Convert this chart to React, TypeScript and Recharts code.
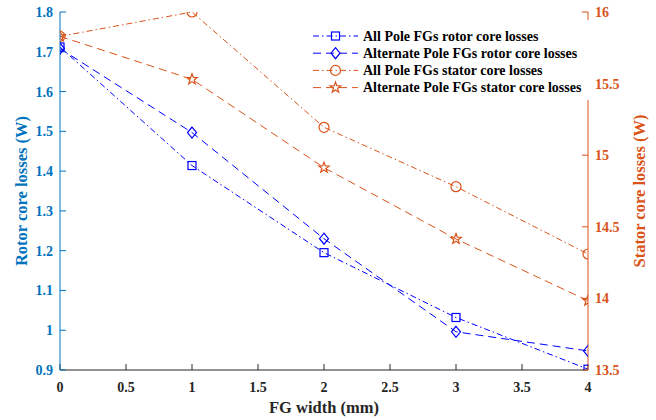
import React from 'react';
import { LineChart, Line, XAxis, YAxis, Legend, Label } from 'recharts';

// ---- data ----
const fgWidth = [0, 1, 2, 3, 4];
const allPoleRotor = [1.712, 1.414, 1.195, 1.032, 0.902];
const altPoleRotor = [1.708, 1.497, 1.23, 0.996, 0.948];
const allPoleStator = [15.83, 16.0, 15.195, 14.78, 14.31];
const altPoleStator = [15.83, 15.53, 14.913, 14.415, 13.984];

const xTicks = [0, 0.5, 1, 1.5, 2, 2.5, 3, 3.5, 4];
const leftTicks = [0.9, 1, 1.1, 1.2, 1.3, 1.4, 1.5, 1.6, 1.7, 1.8];
const rightTicks = [13.5, 14, 14.5, 15, 15.5, 16];

const seriesNames = [
  'All Pole FGs rotor core losses',
  'Alternate Pole FGs rotor core losses',
  'All Pole FGs stator core losses',
  'Alternate Pole FGs stator core losses',
];

const data = fgWidth.map((x, i) => ({
  x,
  apr: allPoleRotor[i],
  altr: altPoleRotor[i],
  aps: allPoleStator[i],
  alts: altPoleStator[i],
}));

const BLUE = '#0000FF';
const ORANGE = '#D95319';
const AXBLUE = '#0072BD';
const DARK = '#262626';
const FONT = "'Times New Roman', 'Liberation Serif', serif";
const DASHDOT = '6 3 1.5 3';
const DASHED = '8 5';

type MarkerKind = 'square' | 'diamond' | 'circle' | 'star';

const series: { key: string; name: string; color: string; dash: string; marker: MarkerKind; axis: string }[] = [
  { key: 'apr', name: seriesNames[0], color: BLUE, dash: DASHDOT, marker: 'square', axis: 'left' },
  { key: 'altr', name: seriesNames[1], color: BLUE, dash: DASHED, marker: 'diamond', axis: 'left' },
  { key: 'aps', name: seriesNames[2], color: ORANGE, dash: DASHDOT, marker: 'circle', axis: 'right' },
  { key: 'alts', name: seriesNames[3], color: ORANGE, dash: DASHED, marker: 'star', axis: 'right' },
];

function starPath(cx: number, cy: number, ro: number, ri: number) {
  const pts: string[] = [];
  for (let k = 0; k < 10; k++) {
    const r = k % 2 === 0 ? ro : ri;
    const a = -Math.PI / 2 + (k * Math.PI) / 5;
    pts.push(`${(cx + r * Math.cos(a)).toFixed(2)},${(cy + r * Math.sin(a)).toFixed(2)}`);
  }
  return `M${pts.join('L')}Z`;
}

function Marker({ kind, cx, cy, color }: { kind: MarkerKind; cx: number; cy: number; color: string }) {
  const common = { fill: 'none', stroke: color, strokeWidth: 1.2 };
  if (kind === 'square') return <rect x={cx - 4} y={cy - 4} width={8} height={8} {...common} />;
  if (kind === 'diamond')
    return <path d={`M${cx},${cy - 5.5}L${cx + 4.5},${cy}L${cx},${cy + 5.5}L${cx - 4.5},${cy}Z`} {...common} />;
  if (kind === 'circle') return <circle cx={cx} cy={cy} r={5} {...common} />;
  return <path d={starPath(cx, cy, 5.5, 2.3)} {...common} />;
}

const textStyle = (size: number, color: string) => ({
  fontFamily: FONT,
  fontWeight: 700,
  fontSize: size,
  fill: color,
});

const LegendBox = () => (
  <svg width={290} height={80} style={{ display: 'block' }}>
    <rect x={0} y={0} width={290} height={80} fill="#fff" />
    {series.map((s, i) => {
      const y = 16 + i * 17.2;
      return (
        <g key={s.key}>
          <line x1={13} x2={58} y1={y} y2={y} stroke={s.color} strokeWidth={1} strokeDasharray={s.dash} />
          <Marker kind={s.marker} cx={35.5} cy={y} color={s.color} />
          <text x={63} y={y + 4.8} style={textStyle(14, '#000')}>
            {s.name}
          </text>
        </g>
      );
    })}
  </svg>
);

export default function App() {
  return (
    <div style={{ position: 'absolute', left: 0, top: 0, background: '#fff' }}>
      <LineChart width={656} height={420} data={data} margin={{ top: 12, right: 0, bottom: 0, left: 0 }}>
        <XAxis
          xAxisId="top"
          orientation="top"
          dataKey="x"
          type="number"
          domain={[0, 4]}
          allowDataOverflow
          height={0}
          tick={false}
          tickLine={false}
          axisLine={{ stroke: DARK, strokeWidth: 1 }}
        />
        <XAxis
          dataKey="x"
          type="number"
          domain={[0, 4]}
          ticks={xTicks}
          allowDataOverflow
          height={50}
          tickSize={-6}
          tickMargin={18}
          axisLine={{ stroke: DARK, strokeWidth: 1 }}
          tickLine={{ stroke: DARK, strokeWidth: 1 }}
          tick={{ style: textStyle(14, DARK) }}
          tickFormatter={(v: number) => String(v)}
        >
          <Label
            content={(p: any) => {
              const vb = p.viewBox;
              return (
                <text x={vb.x + vb.width / 2} y={vb.y + 43} textAnchor="middle" style={textStyle(16.5, DARK)}>
                  FG width (mm)
                </text>
              );
            }}
          />
        </XAxis>
        <YAxis
          yAxisId="left"
          orientation="left"
          type="number"
          domain={[0.9, 1.8]}
          ticks={leftTicks}
          allowDataOverflow
          width={60}
          tickSize={-6}
          tickMargin={13}
          axisLine={{ stroke: AXBLUE, strokeWidth: 1 }}
          tickLine={{ stroke: AXBLUE, strokeWidth: 1 }}
          tick={{ style: textStyle(14, AXBLUE) }}
          tickFormatter={(v: number) => String(v)}
        >
          <Label
            content={(p: any) => {
              const vb = p.viewBox;
              const cx = vb.x + 21;
              const cy = vb.y + vb.height / 2;
              return (
                <text
                  x={cx}
                  y={cy}
                  transform={`rotate(-90, ${cx}, ${cy})`}
                  textAnchor="middle"
                  dominantBaseline="central"
                  style={textStyle(16.5, AXBLUE)}
                >
                  Rotor core losses (W)
                </text>
              );
            }}
          />
        </YAxis>
        <YAxis
          yAxisId="right"
          orientation="right"
          type="number"
          domain={[13.5, 16]}
          ticks={rightTicks}
          allowDataOverflow
          width={68}
          tickSize={-6}
          tickMargin={13}
          axisLine={{ stroke: ORANGE, strokeWidth: 1 }}
          tickLine={{ stroke: ORANGE, strokeWidth: 1 }}
          tick={{ style: textStyle(14, ORANGE) }}
          tickFormatter={(v: number) => String(v)}
        >
          <Label
            content={(p: any) => {
              const vb = p.viewBox;
              const cx = vb.x + 51;
              const cy = vb.y + vb.height / 2;
              return (
                <text
                  x={cx}
                  y={cy}
                  transform={`rotate(-90, ${cx}, ${cy})`}
                  textAnchor="middle"
                  dominantBaseline="central"
                  style={textStyle(16.5, ORANGE)}
                >
                  Stator core losses (W)
                </text>
              );
            }}
          />
        </YAxis>
        {series.map((s) => (
          <Line
            key={s.key}
            yAxisId={s.axis}
            dataKey={s.key}
            name={s.name}
            type="linear"
            stroke={s.color}
            strokeWidth={1}
            strokeDasharray={s.dash}
            isAnimationActive={false}
            activeDot={false}
            dot={(p: any) => <Marker key={`${s.key}-${p.index}`} kind={s.marker} cx={p.cx} cy={p.cy} color={s.color} />}
          />
        ))}
        <Legend
          layout="vertical"
          align="center"
          verticalAlign="middle"
          content={() => <LegendBox />}
          wrapperStyle={{ position: 'absolute', left: 300, top: 20, width: 290, height: 80 }}
        />
      </LineChart>
    </div>
  );
}
